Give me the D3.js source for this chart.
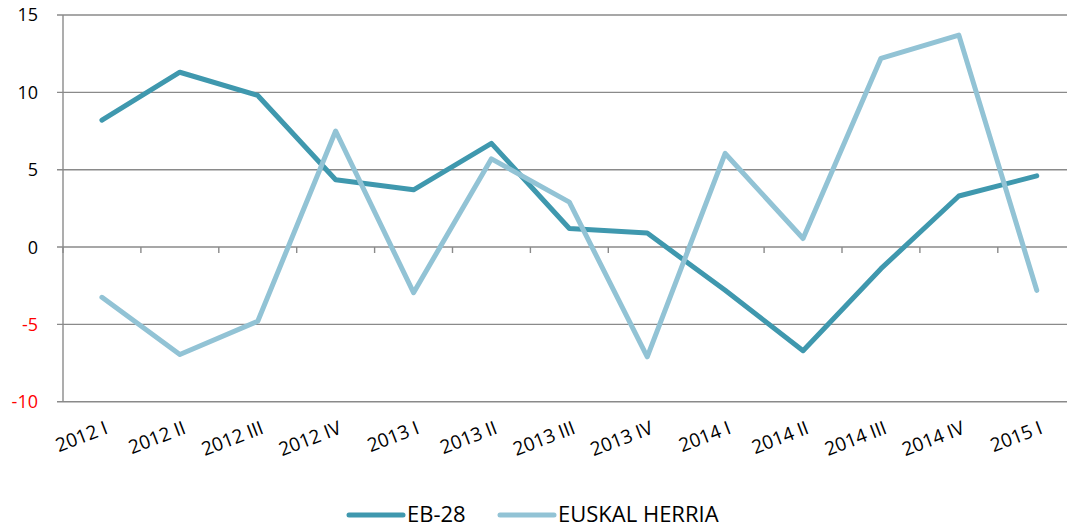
<!DOCTYPE html>
<html lang="en">
	<head>
		<meta charset="UTF-8" />
		<title>EB-28 / Euskal Herria</title>
		<script src="https://d3js.org/d3.v7.min.js"></script>
		<style>
			body {
				margin: 0;
				padding: 0;
				background: #fff;
				font-family: "Open Sans", sans-serif;
			}
			svg {
				display: block;
			}
		</style>
	</head>
	<body>
		<svg width="1067" height="529"></svg>
		<script>
			const width = 1067;
			const height = 529;

			// data
			const quarters = [
				"2012 I", "2012 II", "2012 III", "2012 IV",
				"2013 I", "2013 II", "2013 III", "2013 IV",
				"2014 I", "2014 II", "2014 III", "2014 IV", "2015 I",
			];
			const eb28 = [8.2, 11.3, 9.8, 4.35, 3.7, 6.7, 1.2, 0.9, -2.8, -6.7, -1.4, 3.3, 4.6];
			const euskalHerria = [-3.25, -6.95, -4.8, 7.5, -2.95, 5.7, 2.9, -7.1, 6.05, 0.55, 12.2, 13.7, -2.8];
			const yTicks = [15, 10, 5, 0, -5, -10];
			const seriesNames = ["EB-28", "EUSKAL HERRIA"];
			const colors = ["#3f98ae", "#92c3d5"];

			const plotLeft = 63;
			const plotTop = 15;
			const plotBottom = 401.7;

			const svg = d3.select("svg");

			const x = d3.scaleBand().domain(quarters).range([plotLeft, plotLeft + 77.9 * quarters.length]);
			const y = d3.scaleLinear().domain([-10, 15]).range([plotBottom, plotTop]);

			// gridlines + y labels
			const grid = svg.append("g");
			grid
				.selectAll("line")
				.data(yTicks)
				.enter()
				.append("line")
				.attr("x1", plotLeft - 6)
				.attr("x2", width)
				.attr("y1", (d) => y(d))
				.attr("y2", (d) => y(d))
				.style("stroke", "#8a8a8a")
				.style("stroke-width", 1.4);

			grid
				.selectAll("text")
				.data(yTicks)
				.enter()
				.append("text")
				.attr("x", 38)
				.attr("y", (d) => y(d))
				.attr("dy", "0.36em")
				.attr("text-anchor", "end")
				.style("font-size", "18px")
				.style("fill", (d) => (d < 0 ? "#ff0000" : "#000"))
				.text((d) => d);

			// y axis line
			svg
				.append("line")
				.attr("x1", plotLeft)
				.attr("x2", plotLeft)
				.attr("y1", plotTop)
				.attr("y2", plotBottom)
				.style("stroke", "#8a8a8a")
				.style("stroke-width", 1.4);

			// category ticks on the zero line
			svg
				.append("g")
				.selectAll("line")
				.data(quarters)
				.enter()
				.append("line")
				.attr("x1", (d) => x(d))
				.attr("x2", (d) => x(d))
				.attr("y1", y(0))
				.attr("y2", y(0) + 6)
				.style("stroke", "#8a8a8a")
				.style("stroke-width", 1.4);

			// x labels
			svg
				.append("g")
				.selectAll("text")
				.data(quarters)
				.enter()
				.append("text")
				.attr("transform", (d) => `translate(${x(d) + x.bandwidth() / 2 + 7},433) rotate(-21)`)
				.attr("text-anchor", "end")
				.style("font-size", "19px")
				.style("fill", "#000")
				.text((d) => d);

			// lines
			const line = d3
				.line()
				.x((d, i) => x(quarters[i]) + x.bandwidth() / 2)
				.y((d) => y(d));

			[eb28, euskalHerria].forEach((values, k) => {
				svg
					.append("path")
					.datum(values)
					.attr("d", line)
					.style("fill", "none")
					.style("stroke", colors[k])
					.style("stroke-width", 5)
					.style("stroke-linecap", "round")
					.style("stroke-linejoin", "round");
			});

			// legend
			const legendX = [349, 500];
			const legend = svg
				.append("g")
				.selectAll("g")
				.data(seriesNames)
				.enter()
				.append("g")
				.attr("transform", (d, i) => `translate(${legendX[i]},515)`);

			legend
				.append("line")
				.attr("x1", 0)
				.attr("x2", 54)
				.style("stroke", (d, i) => colors[i])
				.style("stroke-width", 5)
				.style("stroke-linecap", "round");

			legend
				.append("text")
				.attr("x", 58)
				.attr("y", 7)
				.style("font-size", "22px")
				.style("fill", "#000")
				.text((d) => d);
		</script>
	</body>
</html>
